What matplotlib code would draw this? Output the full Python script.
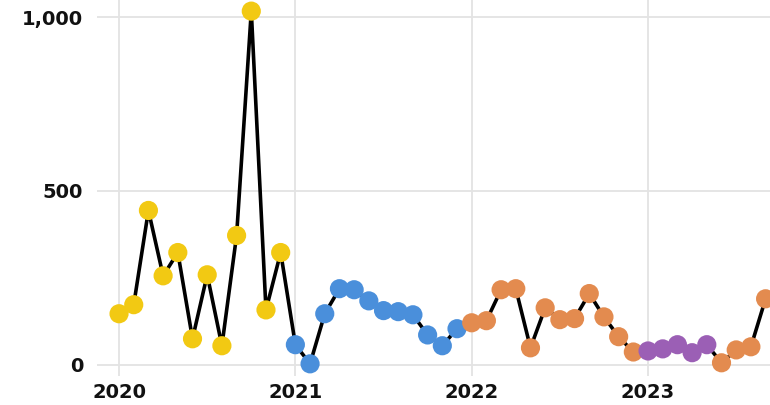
import matplotlib
matplotlib.use("Agg")
import matplotlib.pyplot as plt
import numpy as np

months = ["2020-01","2020-02","2020-03","2020-04","2020-05","2020-06","2020-07","2020-08","2020-09","2020-10","2020-11","2020-12",
          "2021-01","2021-02","2021-03","2021-04","2021-05","2021-06","2021-07","2021-08","2021-09","2021-10","2021-11","2021-12",
          "2022-01","2022-02","2022-03","2022-04","2022-05","2022-06","2022-07","2022-08","2022-09","2022-10","2022-11","2022-12",
          "2023-01","2023-02","2023-03","2023-04","2023-05","2023-06","2023-07","2023-08","2023-09"]
values = [147, 173, 444, 256, 323, 75, 259, 55, 372, 1017, 158, 323,
          58, 3, 147, 219, 216, 184, 156, 153, 144, 86, 55, 104,
          121, 127, 216, 219, 49, 164, 130, 133, 205, 138, 81, 37,
          40, 46, 58, 35, 58, 6, 43, 52, 190]
groups = ["2020"]*12 + ["2021"]*12 + ["2022"]*12 + ["2023a"]*5 + ["2022"]*4
group_colors = {"2020": "#F2C913", "2021": "#4A8FDB", "2022": "#E38B4F", "2023a": "#9B5FB5"}
year_ticks = ["2020", "2021", "2022", "2023"]
y_ticks = [0, 500, 1000]
y_tick_labels = ["0", "500", "1,000"]

x = np.array([(int(m[:4]) - 2020) * 12 + int(m[5:]) - 1 for m in months])
colors = [group_colors[g] for g in groups]

fig = plt.figure(figsize=(7.7, 4.05), dpi=100)
ax = fig.add_axes([97/770, 29/405, 1 - 97/770, 376/405])
ax.plot(x, values, color="black", lw=2.6, zorder=2)
ax.scatter(x, values, s=13.8**2, c=colors, zorder=3, linewidths=0)

ax.set_xlim(-1.5, 44.3)
ax.set_ylim(-32, 1049)
ax.set_xticks([(int(y) - 2020) * 12 for y in year_ticks])
ax.set_xticklabels(year_ticks)
ax.set_yticks(y_ticks)
ax.set_yticklabels(y_tick_labels)
for lab in ax.get_xticklabels() + ax.get_yticklabels():
    lab.set_fontweight("bold")
    lab.set_fontsize(14)
    lab.set_color("#111111")
ax.tick_params(length=0, pad=10)
ax.tick_params(axis="x", pad=5)
ax.grid(True, color="#e3e3e3", lw=1.3)
ax.set_axisbelow(True)
for s in ax.spines.values():
    s.set_visible(False)

fig.savefig("out.png", dpi=100)
